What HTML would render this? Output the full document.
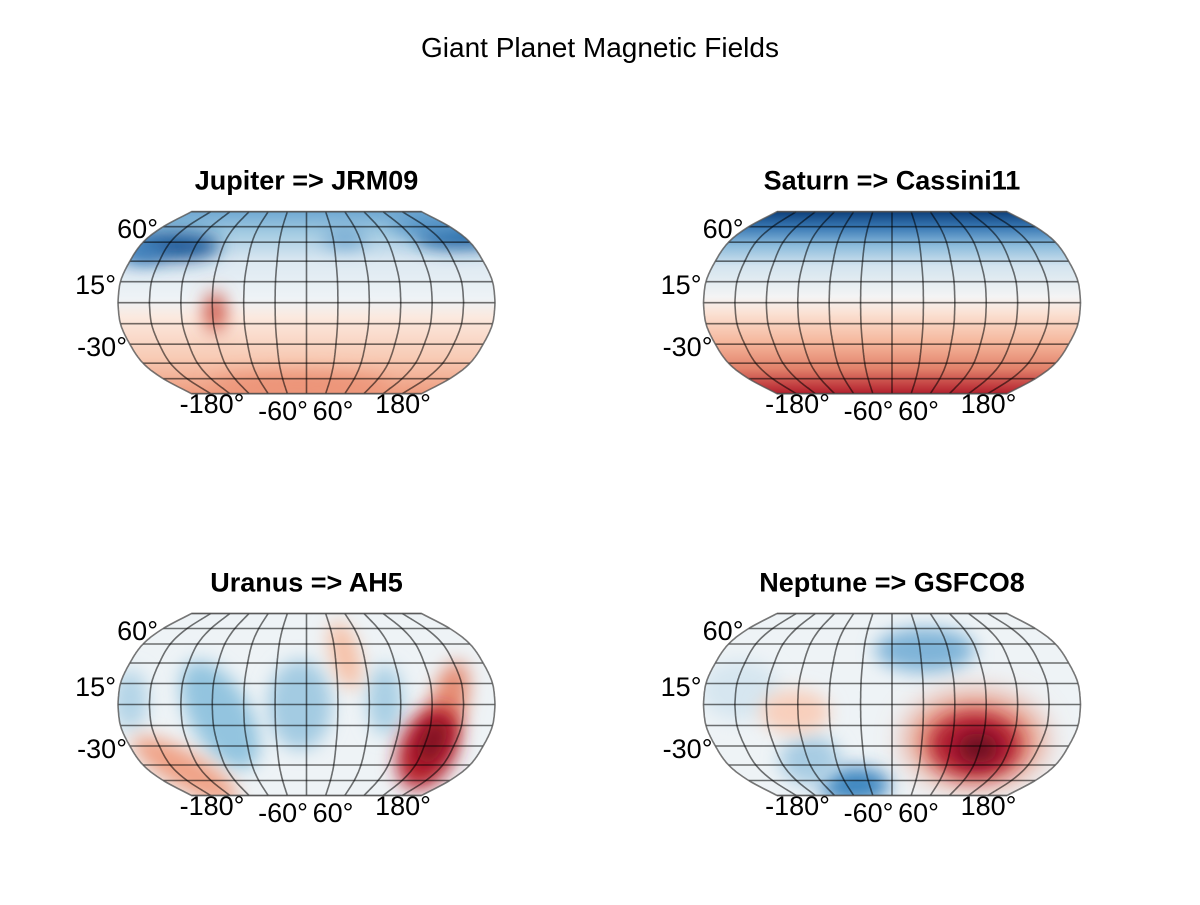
<!DOCTYPE html>
<html><head><meta charset="utf-8"><style>
html,body{margin:0;padding:0;background:#fff;}
svg text{font-family:"Liberation Sans",sans-serif;}
</style></head><body>
<svg id="s" width="1200" height="900" xmlns="http://www.w3.org/2000/svg">
<defs>
<filter id="b1" x="-100%" y="-100%" width="300%" height="300%"><feGaussianBlur stdDeviation="9"/></filter>
<filter id="b2" x="-100%" y="-100%" width="300%" height="300%"><feGaussianBlur stdDeviation="15"/></filter>
<linearGradient id="gJ" x1="0" y1="211" x2="0" y2="394" gradientUnits="userSpaceOnUse">
<stop offset="0" stop-color="#6fa8d2"/><stop offset="0.12" stop-color="#a3cbe2"/><stop offset="0.28" stop-color="#dde9f2"/><stop offset="0.48" stop-color="#eef3f6"/><stop offset="0.58" stop-color="#fbe9df"/><stop offset="0.8" stop-color="#f8cbb5"/><stop offset="1" stop-color="#ee9c7f"/></linearGradient>
<linearGradient id="gS" x1="0" y1="211" x2="0" y2="394" gradientUnits="userSpaceOnUse">
<stop offset="0" stop-color="#0b3d78"/><stop offset="0.09" stop-color="#3a7ab6"/><stop offset="0.19" stop-color="#8dbcdc"/><stop offset="0.3" stop-color="#d3e4ef"/><stop offset="0.47" stop-color="#f4f4f4"/><stop offset="0.56" stop-color="#fbe1d3"/><stop offset="0.72" stop-color="#f5b69b"/><stop offset="0.86" stop-color="#e2826b"/><stop offset="1" stop-color="#b21e2c"/></linearGradient>
</defs>
<text x="600" y="57" font-size="28" text-anchor="middle">Giant Planet Magnetic Fields</text>
<g id="maps"></g>
</svg>
<script>
const lats=[-75,-60,-45,-30,-15,0,15,30,45,60,75];
const dyA=[0,21,41.5,60.5,76,91];
const xfA=[1,0.987,0.937,0.867,0.76,0.61];
function cr(A,a){a=Math.min(Math.abs(a),75)/15;let i=Math.min(Math.floor(a),4);let t=a-i;
 const p0=i>0?A[i-1]:A[1],p1=A[i],p2=A[i+1],p3=i+2<A.length?A[i+2]:2*A[i+1]-A[i];
 return 0.5*((2*p1)+(-p0+p2)*t+(2*p0-5*p1+4*p2-p3)*t*t+(-p0+3*p1-3*p2+p3)*t*t*t);}
function P(cx,cy,lon,lat){const s=lat<0?1:-1;return [cx+lon/360*188.5*cr(xfA,lat),cy+s*cr(dyA,lat)];}
function pts(arr){return arr.map(p=>p[0].toFixed(1)+','+p[1].toFixed(1)).join(' ');}
function outline(cx,cy){let a=[];for(let l=75;l>=-75;l-=1)a.push(P(cx,cy,360,l));for(let l=-75;l<=75;l+=1)a.push(P(cx,cy,-360,l));return a;}
const maps=[
 {cx:306.5,cy:302.7,title:"Jupiter => JRM09",bg:"url(#gJ)",blobs:[
  ['e',175,246,45,14,'#1c5898','b1',0],['e',140,252,25,12,'#3d7fbb','b1',0],['e',345,238,22,10,'#73a9d2','b1',0],['e',460,236,45,12,'#1f5fa0','b1',0],['e',430,225,40,10,'#5393c6','b1',0],['e',215,312,11,20,'#cf5a4c','b1',0],['e',300,385,90,12,'#ec9276','b1',0]]},
 {cx:892,cy:302.7,title:"Saturn => Cassini11",bg:"url(#gS)",blobs:[]},
 {cx:306.5,cy:704.5,title:"Uranus => AH5",bg:"#eef3f6",blobs:[
  ['e',130,700,18,30,'#b3d4e7','b1',0],['e',220,715,30,60,'#93c4df','b1',-30],['e',300,705,32,45,'#a3cbe2','b1',0],['e',385,700,18,35,'#a9cfe4','b1',0],
  ['e',345,655,14,35,'#f6c0a6','b1',-15],['e',185,770,60,18,'#f0a286','b1',30],
  ['e',448,705,18,45,'#e58a71','b1',15],['e',428,748,28,44,'#b8202e','b1',25],['e',432,742,12,24,'#7a0a22','b1',25]]},
 {cx:892,cy:704.5,title:"Neptune => GSFCO8",bg:"#eef3f6",blobs:[
  ['e',925,650,50,22,'#7fb4d8','b1',0],['e',855,785,35,18,'#3c86c0','b1',0],['e',810,760,30,25,'#a7cce3','b1',0],['e',740,690,40,30,'#d6e6f0','b1',0],
  ['e',795,712,35,22,'#f8cfbc','b1',0],['e',975,740,68,45,'#e58a71','b2',0],['e',975,745,45,32,'#b01d30','b1',0],['e',978,748,20,15,'#6b0a22','b1',0]]}
];
let h='';
maps.forEach((m,i)=>{const {cx,cy}=m;const o=pts(outline(cx,cy));
 h+=`<clipPath id="c${i}"><polygon points="${o}"/></clipPath>`;
 h+=`<text x="${cx}" y="${cy-113}" font-size="27" font-weight="bold" text-anchor="middle">${m.title.replace('>','&gt;')}</text>`;
 h+=`<g clip-path="url(#c${i})"><rect x="${cx-200}" y="${cy-100}" width="400" height="200" fill="${m.bg}"/>`;
 m.blobs.forEach(b=>{h+=`<ellipse cx="${b[1]}" cy="${b[2]}" rx="${b[3]}" ry="${b[4]}" fill="${b[5]}" filter="url(#${b[6]})" transform="rotate(${b[7]} ${b[1]} ${b[2]})"/>`;});
 h+='</g>';
 let g='';
 lats.forEach(l=>{const a=P(cx,cy,-360,l),b=P(cx,cy,360,l);g+=`<line x1="${a[0]}" y1="${a[1]}" x2="${b[0]}" y2="${b[1]}"/>`;});
 for(let lon=-300;lon<=300;lon+=60){let a=[];for(let l=-75;l<=75;l+=1)a.push(P(cx,cy,lon,l));g+=`<polyline fill="none" points="${pts(a)}"/>`;}
 h+=`<g stroke="#000" stroke-opacity="0.55" stroke-width="1.6">${g}</g>`;
 h+=`<polygon points="${o}" fill="none" stroke="#555" stroke-opacity="0.8" stroke-width="1.6"/>`;
 const dx=cx-306.5,dy=cy-302.7;
 h+=`<g font-size="27" text-anchor="end"><text x="${158+dx}" y="${238+dy}">60°</text><text x="${116+dx}" y="${294+dy}">15°</text><text x="${127+dx}" y="${356+dy}">-30°</text></g>`;
 h+=`<g font-size="27" text-anchor="middle"><text x="${212+dx}" y="${413+dy}">-180°</text><text x="${283+dx}" y="${420+dy}">-60°</text><text x="${333+dx}" y="${420+dy}">60°</text><text x="${403+dx}" y="${413+dy}">180°</text></g>`;
});
document.getElementById('maps').innerHTML=h;
</script>
</body></html>
